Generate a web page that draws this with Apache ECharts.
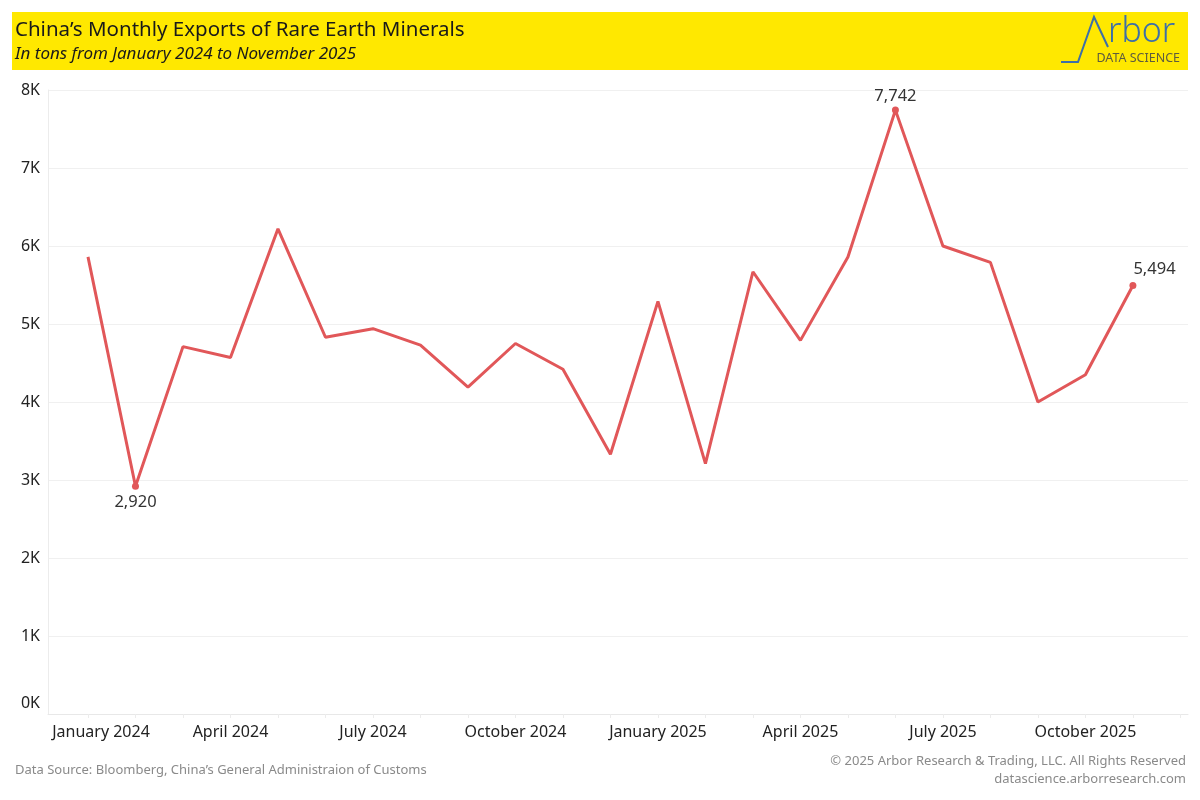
<!DOCTYPE html>
<html>
<head>
<meta charset="utf-8">
<script src="https://cdn.jsdelivr.net/npm/echarts@6/dist/echarts.min.js"></script>
<style>html,body{margin:0;padding:0;background:#fff}#c{width:1200px;height:800px}</style>
</head>
<body>
<div id="c"></div>
<script>
var months = ['January 2024','February 2024','March 2024','April 2024','May 2024','June 2024','July 2024','August 2024','September 2024','October 2024','November 2024','December 2024',
              'January 2025','February 2025','March 2025','April 2025','May 2025','June 2025','July 2025','August 2025','September 2025','October 2025','November 2025'];
var exportsTons = [5860, 2920, 4710, 4570, 6220, 4830, 4940, 4730, 4190, 4750, 4420, 3330,
                   5290, 3210, 5670, 4790, 5860, 7742, 6000, 5790, 4000, 4350, 5494];
var labelledMonths = ['February 2024', 'June 2025', 'November 2025'];
var labelPositions = ['bottom', 'top', 'top'];
var yTicks = [0, 1000, 2000, 3000, 4000, 5000, 6000, 7000, 8000];

var FONT = '"Noto Sans", "Open Sans", sans-serif';
var RED = '#e15759';

var labelIdx = [];
for (var i = 0; i < months.length; i += 3) labelIdx.push(i);
var tickIdx = [];
for (var j = 0; j <= months.length; j++) tickIdx.push(j);

var seriesData = exportsTons.map(function (v, i) {
  var k = labelledMonths.indexOf(months[i]);
  if (k < 0) return { value: [i, v] };
  var pos = labelPositions[k];
  var lab = { show: true, position: pos, distance: pos === 'bottom' ? 4 : 2, color: '#333', fontSize: 16.5, fontFamily: FONT,
    formatter: function (p) { return p.value[1].toLocaleString('en-US'); } };
  if (i === months.length - 1) { lab.position = [4, -21]; lab.align = 'left'; }
  return { value: [i, v], symbol: 'circle', symbolSize: 7, label: lab };
});

var chart = echarts.init(document.getElementById('c'), null, { renderer: 'canvas' });
chart.setOption({
  backgroundColor: '#fff',
  animation: false,
  grid: { left: 48, right: 12, top: 90, bottom: 86, containLabel: false },
  xAxis: {
    type: 'value',
    min: -0.842, max: 23.16,
    axisLine: { show: true, onZero: false, lineStyle: { color: '#e8e8e8', width: 1 } },
    axisTick: { show: true, customValues: tickIdx, length: 4, lineStyle: { color: '#ececec' } },
    splitLine: { show: false },
    axisLabel: {
      customValues: labelIdx,
      margin: 10,
      color: '#222', fontSize: 16, fontFamily: FONT,
      formatter: function (v) {
        var name = months[Math.round(v)] || '';
        return Math.round(v) === 0 ? '{f|' + name + '}' : name;
      },
      rich: { f: { padding: [0, 0, 0, 26], color: '#222', fontSize: 16, fontFamily: FONT } }
    }
  },
  yAxis: {
    type: 'value',
    min: yTicks[0], max: yTicks[yTicks.length - 1], interval: 1000,
    axisLine: { show: true, onZero: false, lineStyle: { color: '#ececec' } },
    axisTick: { show: false },
    splitLine: { show: true, lineStyle: { color: '#f0f0f0', width: 1 } },
    axisLabel: {
      margin: 8,
      color: '#222', fontSize: 16, fontFamily: FONT,
      formatter: function (v) { return v === 0 ? '{z|0K}' : (v / 1000) + 'K'; },
      rich: { z: { padding: [0, 0, 22, 0], color: '#222', fontSize: 16, fontFamily: FONT } }
    }
  },
  series: [{
    type: 'line',
    data: seriesData,
    symbol: 'none',
    lineStyle: { color: RED, width: 3 },
    itemStyle: { color: RED },
    z: 3
  }],
  graphic: [
    { type: 'rect', shape: { x: 12, y: 12, width: 1176, height: 58 }, style: { fill: '#ffe800' }, z: 0 },
    { type: 'text', x: 15, y: 30, style: { text: 'China\u2019s Monthly Exports of Rare Earth Minerals', fontSize: 20.5, fontFamily: FONT, fill: '#1a1a1a', textVerticalAlign: 'middle' }, z: 5 },
    { type: 'text', x: 15, y: 54, style: { text: 'In tons from January 2024 to November 2025', fontSize: 17, fontStyle: 'italic', fontFamily: FONT, fill: '#1a1a1a', textVerticalAlign: 'middle' }, z: 5 },
    { type: 'polyline', shape: { points: [[1061, 62], [1078, 62], [1094, 17], [1108, 47]] }, style: { stroke: '#3d6fa8', lineWidth: 2, fill: null, lineJoin: 'miter' }, z: 5 },
    { type: 'text', x: 1108, y: 49, style: { text: 'rbor', fontSize: 34, fontFamily: FONT, fontWeight: 300, fill: '#3d6fa8', textVerticalAlign: 'bottom', textAlign: 'left' }, z: 5 },
    { type: 'text', x: 1180, y: 58, style: { text: 'DATA SCIENCE', fontSize: 12.5, fontFamily: FONT, fill: '#5f5c3f', textVerticalAlign: 'middle', textAlign: 'right' }, z: 5 },
    { type: 'text', x: 15, y: 770, style: { text: 'Data Source: Bloomberg, China\u2019s General Administraion of Customs', fontSize: 13, fontFamily: FONT, fill: '#8a8a8a', textVerticalAlign: 'middle' }, z: 5 },
    { type: 'text', x: 1186, y: 761, style: { text: '\u00a9 2025 Arbor Research & Trading, LLC. All Rights Reserved', fontSize: 13, fontFamily: FONT, fill: '#8a8a8a', textVerticalAlign: 'middle', textAlign: 'right' }, z: 5 },
    { type: 'text', x: 1186, y: 779, style: { text: 'datascience.arborresearch.com', fontSize: 13, fontFamily: FONT, fill: '#8a8a8a', textVerticalAlign: 'middle', textAlign: 'right' }, z: 5 }
  ]
});
</script>
</body>
</html>
